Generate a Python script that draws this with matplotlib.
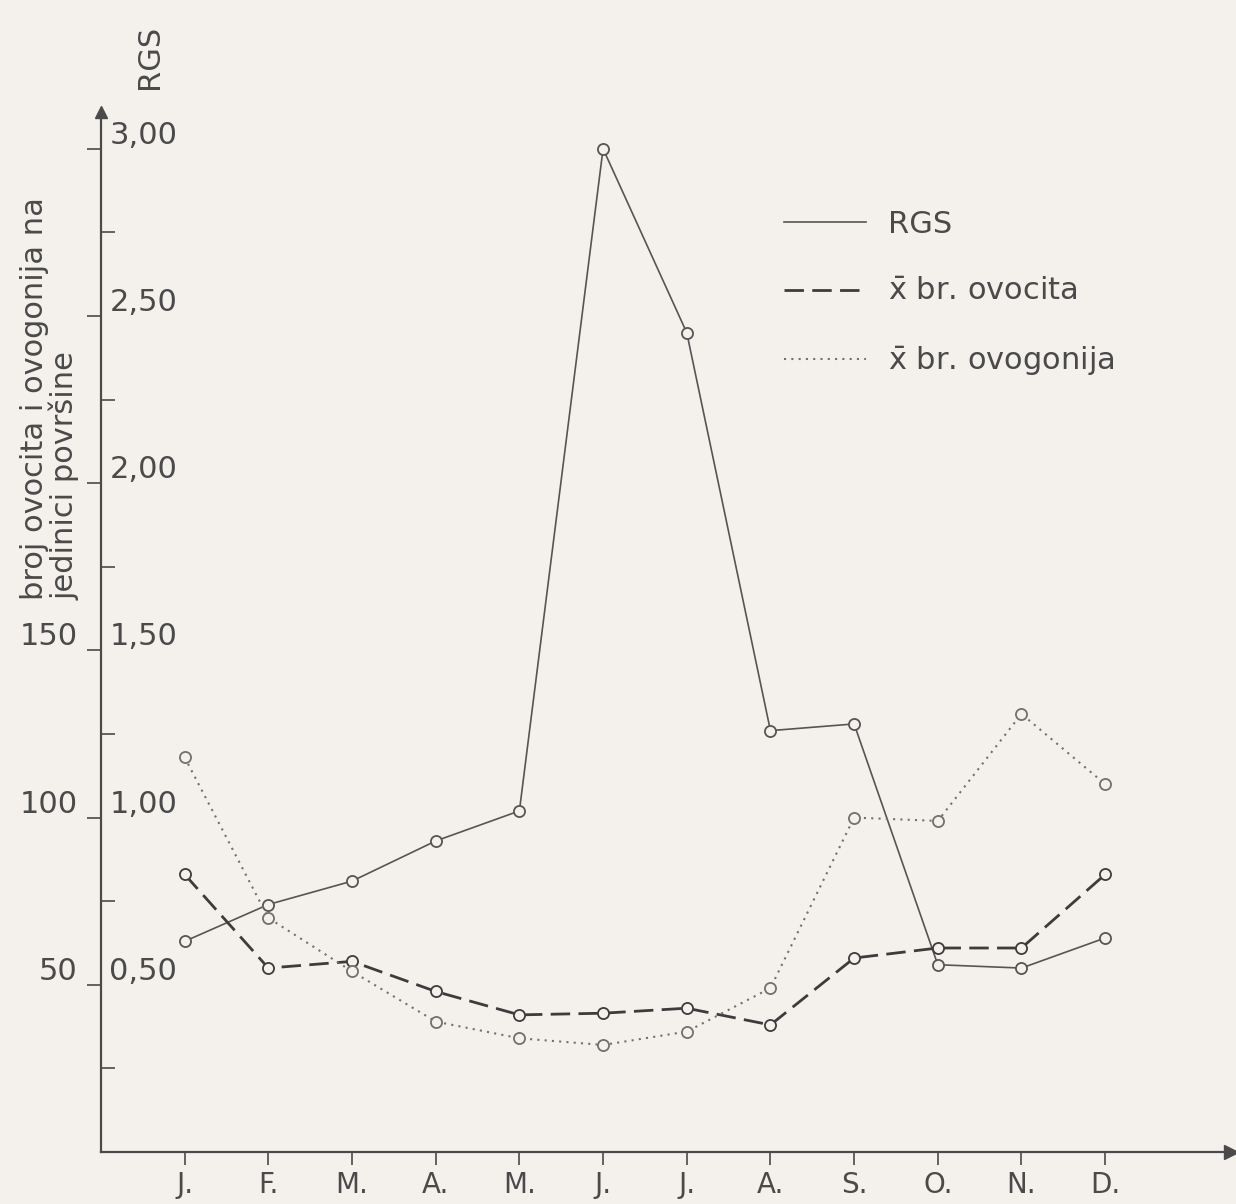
import matplotlib.pyplot as plt
from matplotlib.ticker import FixedLocator

months = ["J.", "F.", "M.", "A.", "M.", "J.", "J.", "A.", "S.", "O.", "N.", "D."]

# RGS (read on the 0-3 scale)
rgs = [0.63, 0.74, 0.81, 0.93, 1.02, 3.00, 2.45, 1.26, 1.28, 0.56, 0.55, 0.64]
# mean number of oocytes per unit area
ovocita = [83, 55, 57, 48, 41, 41.5, 43, 38, 58, 61, 61, 83]
# mean number of oogonia per unit area
ovogonija = [118, 70, 54, 39, 34, 32, 36, 49, 100, 99, 131, 110]

count_ticks = [50, 100, 150]
rgs_ticks = ["0,50", "1,00", "1,50", "2,00", "2,50", "3,00"]

bg = "#f4f1ed"
ink = "#4a4a4a"
plt.rcParams["font.family"] = ["DejaVu Sans"]

fig = plt.figure(figsize=(12.36, 12.04), dpi=100, facecolor=bg)
ax = fig.add_axes([0.0817, 0.0432, 0.914, 0.8638], facecolor=bg)

x = list(range(len(months)))
mk = dict(marker="o", markersize=8, markerfacecolor=bg, markeredgewidth=1.3)
ax.plot(x, [v * 100 for v in rgs], color="#555555", lw=1.2, linestyle="-",
        markeredgecolor="#555555", **mk)
ax.plot(x, ovocita, color="#3c3c3c", lw=2.0, linestyle=(0, (7, 3)),
        markeredgecolor="#3c3c3c", **mk)
ax.plot(x, ovogonija, color="#707070", lw=1.5, linestyle=(0, (1, 2.5)),
        markeredgecolor="#707070", **mk)

ax.set_xlim(-1.0, 12.5)
ax.set_ylim(0, 311)
for s in ["top", "right"]:
    ax.spines[s].set_visible(False)
for s in ["left", "bottom"]:
    ax.spines[s].set_color(ink)
    ax.spines[s].set_linewidth(1.6)

# arrow heads on the axes
ax.plot(1, 0, ">", color=ink, ms=10, transform=ax.transAxes, clip_on=False)
ax.plot(0, 1, "^", color=ink, ms=8, transform=ax.transAxes, clip_on=False)

ax.set_xticks(x)
ax.set_xticklabels(months, fontsize=20, color=ink)
ax.tick_params(axis="x", direction="out", length=9, width=1.2, colors=ink, pad=5)

ax.set_yticks(range(50, 301, 50))
ax.set_yticklabels([])
ax.yaxis.set_minor_locator(FixedLocator(range(25, 300, 50)))
ax.tick_params(axis="y", which="major", direction="out", length=10, width=1.2, colors=ink)
ax.tick_params(axis="y", which="minor", direction="in", length=10, width=1.2, colors=ink)

for v in count_ticks:
    ax.text(-1.28, v + 4, str(v), fontsize=22, color=ink, ha="right", va="center")
for i, lab in enumerate(rgs_ticks):
    ax.text(-0.9, (i + 1) * 50 + 4, lab, fontsize=22, color=ink, ha="left", va="center")

ax.text(-0.42, 318, "RGS", fontsize=22, color=ink, rotation=90, ha="center", va="bottom",
        clip_on=False)
fig.text(0.040, 0.502, "broj ovocita i ovogonija na\njedinici površine", fontsize=22,
         color=ink, rotation=90, ha="center", va="bottom", linespacing=1.0,
         multialignment="left")

leg = ax.legend(["RGS", r"$\bar{\mathrm{x}}$ br. ovocita", r"$\bar{\mathrm{x}}$ br. ovogonija"],
                loc="upper left", bbox_to_anchor=(0.58, 0.932), frameon=False, fontsize=22,
                handlelength=2.7, handletextpad=0.7, labelspacing=1.25, labelcolor=ink)
for h in leg.get_lines():
    h.set_marker("")

fig.savefig("out.png", dpi=100, facecolor=bg)
